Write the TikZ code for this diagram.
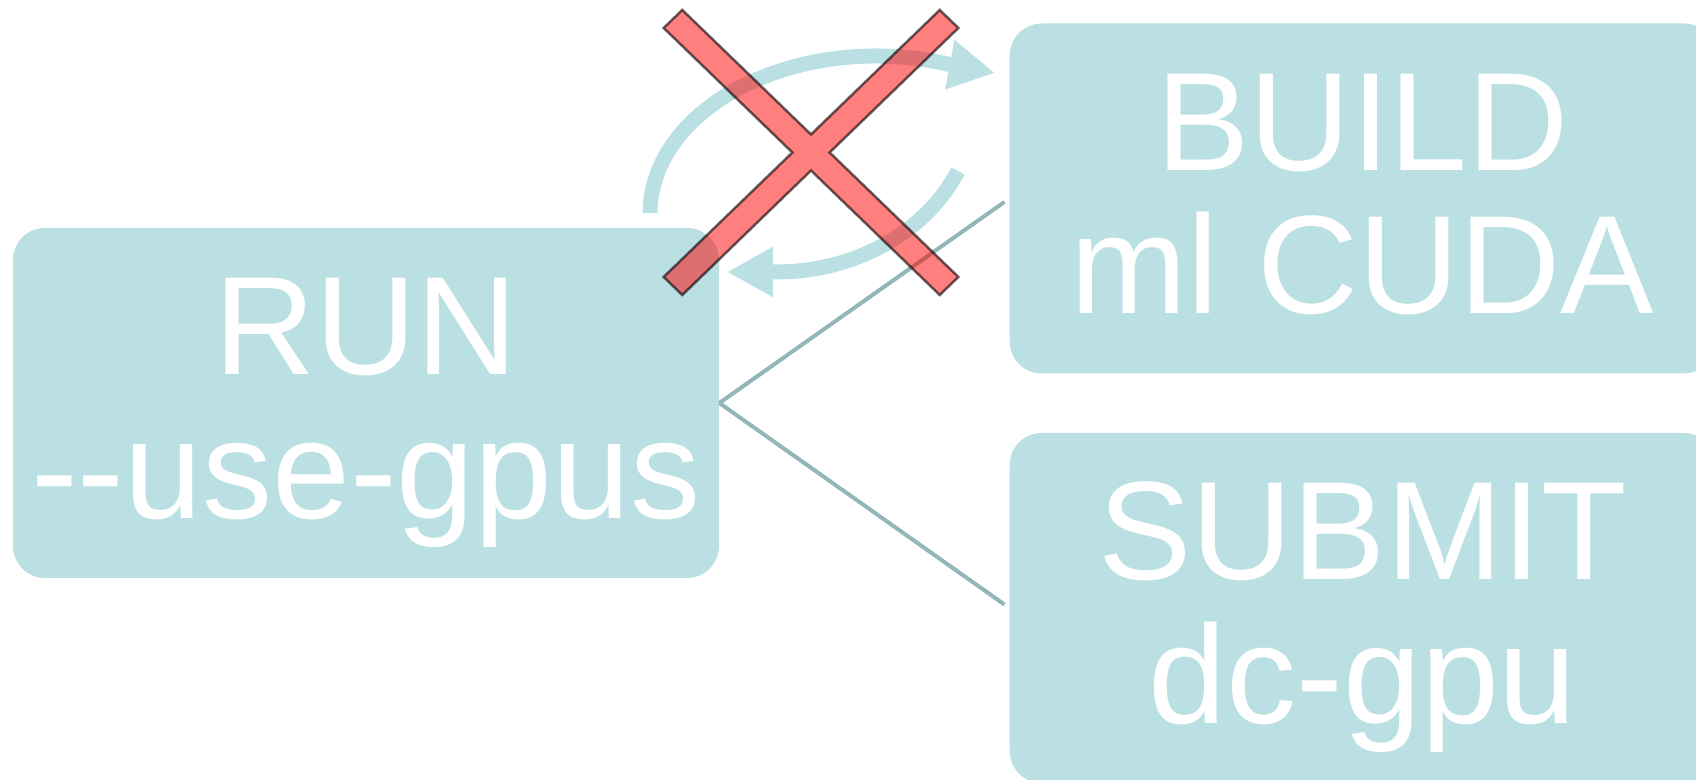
\documentclass[tikz,border=0pt]{standalone}
\usepackage{fontspec}
\setmainfont{Liberation Sans}
\usepackage{tikz}
\usetikzlibrary{positioning, arrows.meta}
\definecolor{gpteal}{HTML}{BBE0E3}
\definecolor{gplink}{HTML}{93B6B9}
\newcommand{\dblhyph}{-\kern0pt-}
\newcommand{\capstrut}{\rule{0pt}{2.34cm}}
\newcommand{\descstrut}{\rule[-0.6cm]{0pt}{0.6cm}}

\begin{document}
\begin{tikzpicture}[
  stagebox/.style={
    rectangle, rounded corners=0.64cm, fill=gpteal, text=white,
    minimum width=14.12cm, minimum height=7cm, inner sep=0pt,
    font=\fontsize{79.7pt}{81.4pt}\selectfont, align=center
  },
  link/.style={line width=0.08cm, color=gplink, shorten >=0.12cm},
  cyclearr/.style={line width=0.3cm, color=gpteal,
    -{Triangle[length=0.92cm, width=0.94cm]}},
  nogo/.style={fill=red, fill opacity=0.5, draw=black, draw opacity=0.6,
    line width=0.05cm, line join=miter},
]
\useasboundingbox (0,0) rectangle (33.92,15.6);

% Etapes
\node[stagebox] (run) at (7.32,7.54) {\capstrut RUN\\\dblhyph use-gpus\descstrut};
\node[stagebox, right=5.8cm of run, yshift=4.09cm] (build) {\capstrut BUILD\\ml CUDA\descstrut};
\node[stagebox, right=5.8cm of run, yshift=-4.1cm] (submit) {\capstrut SUBMIT\\dc-gpu\descstrut};

% Liens
\draw[link] (run.east) -- (build.west);
\draw[link] (run.east) -- (submit.west);

% Boucle run/build
\draw[cyclearr] (13.0,11.34) arc[start angle=180, end angle=71, x radius=4.52cm, y radius=3.14cm] -- (19.9,14.14);
\draw[cyclearr] (19.16,12.18) arc[start angle=-24.4, end angle=-90, x radius=3.98cm, y radius=3.44cm] -- (14.54,10.16);

% Croix
\begin{scope}[shift={(16.22,12.55)}, xscale=1.034, rotate=45]
  \path[nogo] (3.776,0.255) -- (0.255,0.255) -- (0.255,3.776) -- (-0.255,3.776)
    -- (-0.255,0.255) -- (-3.776,0.255) -- (-3.776,-0.255) -- (-0.255,-0.255)
    -- (-0.255,-3.776) -- (0.255,-3.776) -- (0.255,-0.255) -- (3.776,-0.255) -- cycle;
\end{scope}

\end{tikzpicture}
\end{document}
